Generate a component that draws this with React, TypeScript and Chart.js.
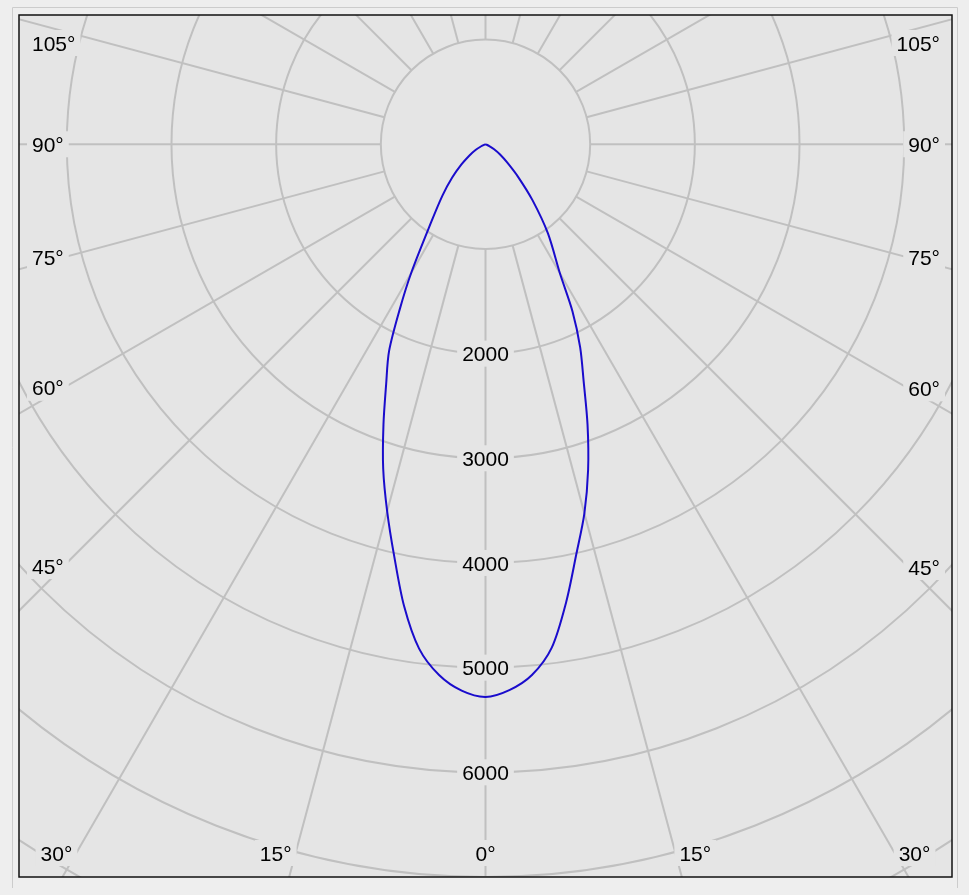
import React, { useEffect, useRef } from "react";
import { Chart, registerables } from "chart.js";

Chart.register(...registerables);

// Vertical angle gamma (degrees from nadir)
const GAMMA = [0, 2.5, 5, 7.5, 10, 12.5, 15, 17.5, 20, 22.5, 25, 27.5, 30, 35, 40, 45, 50, 55, 60, 65, 70, 75, 80, 85, 90];
// Luminous intensity, C0 half-plane (right side), cd
const C0_CD = [5280, 5220, 5090, 4850, 4440, 4010, 3650, 3260, 2850, 2450, 2140, 1800, 1420, 1040, 700, 440, 270, 170, 95, 40, 10, 0, 0, 0, 0];
// Luminous intensity, C180 half-plane (left side), cd
const C180_CD = [5280, 5225, 5090, 4860, 4480, 4030, 3630, 3250, 2850, 2480, 2180, 1770, 1420, 900, 640, 450, 300, 190, 110, 45, 10, 0, 0, 0, 0];

// Grid rings (cd) and the ones that carry a label
const RING_VALUES = [1000, 2000, 3000, 4000, 5000, 6000, 7000, 8000, 9000, 10000];
const RING_LABELS = [2000, 3000, 4000, 5000, 6000];
// Radial spokes (degrees) and angle labels
const SPOKE_ANGLES = [0, 15, 30, 45, 60, 75, 90, 105, 120, 135, 150, 165, 180, 195, 210, 225, 240, 255, 270, 285, 300, 315, 330, 345];
const ANGLE_LABELS = [0, 15, 30, 45, 60, 75, 90, 105];

const PAGE_BG = "#eeeeee";
const PLOT_BG = "#e5e5e5";
const GRID = "#c0c0c0";
const CURVE = "#1a0ccc";
const FONT_SIZE = 21;
const FONT = `${FONT_SIZE}px "Liberation Sans", Arial, sans-serif`;

const Y_MIN = -7000;
const Y_MAX = 1235;
const PAD = { left: 19, top: 15, right: 17, bottom: 18 };
const W = 969;
const H = 895;
const AREA_W = W - PAD.left - PAD.right;
const AREA_H = H - PAD.top - PAD.bottom;
const X_HALF = ((Y_MAX - Y_MIN) * AREA_W) / AREA_H / 2;

function buildCurve() {
  const pts: { x: number; y: number }[] = [];
  for (let i = GAMMA.length - 1; i >= 0; i--) {
    const g = (GAMMA[i] * Math.PI) / 180;
    pts.push({ x: -C180_CD[i] * Math.sin(g), y: -C180_CD[i] * Math.cos(g) });
  }
  for (let i = 1; i < GAMMA.length; i++) {
    const g = (GAMMA[i] * Math.PI) / 180;
    pts.push({ x: C0_CD[i] * Math.sin(g), y: -C0_CD[i] * Math.cos(g) });
  }
  return pts;
}

const polarGrid = {
  id: "polarGrid",
  beforeDraw(chart: any) {
    const { ctx, chartArea: a } = chart;
    ctx.save();
    ctx.fillStyle = PLOT_BG;
    ctx.fillRect(a.left, a.top, a.right - a.left, a.bottom - a.top);
    ctx.restore();
  },
  beforeDatasetsDraw(chart: any) {
    const { ctx, chartArea: a, scales } = chart;
    const xs = scales.x;
    const ys = scales.y;
    const cx = xs.getPixelForValue(0);
    const cy = ys.getPixelForValue(0);
    const k = (xs.getPixelForValue(1000) - cx) / 1000;

    ctx.save();
    ctx.beginPath();
    ctx.rect(a.left, a.top, a.right - a.left, a.bottom - a.top);
    ctx.clip();

    ctx.strokeStyle = GRID;
    ctx.lineWidth = 2;
    RING_VALUES.forEach((v) => {
      ctx.beginPath();
      ctx.arc(cx, cy, v * k, 0, Math.PI * 2);
      ctx.stroke();
    });
    const r0 = RING_VALUES[0] * k;
    SPOKE_ANGLES.forEach((deg) => {
      const t = (deg * Math.PI) / 180;
      const dx = Math.sin(t);
      const dy = Math.cos(t);
      ctx.beginPath();
      ctx.moveTo(cx + dx * r0, cy + dy * r0);
      ctx.lineTo(cx + dx * 3000, cy + dy * 3000);
      ctx.stroke();
    });

    ctx.font = FONT;
    ctx.textBaseline = "alphabetic";
    const drawLabel = (txt: string, x: number, yc: number, align: "left" | "right" | "center") => {
      const w = ctx.measureText(txt).width;
      let left = x;
      if (align === "right") left = x - w;
      if (align === "center") left = x - w / 2;
      ctx.fillStyle = PLOT_BG;
      ctx.fillRect(left - 5, yc - 13, w + 10, 26);
      ctx.fillStyle = "#000";
      ctx.textAlign = "left";
      ctx.fillText(txt, left, yc + 0.36 * FONT_SIZE);
    };

    RING_LABELS.forEach((v) => {
      drawLabel(String(v), cx, ys.getPixelForValue(-v), "center");
    });

    const L = a.left, R = a.right, T = a.top, B = a.bottom;
    ANGLE_LABELS.forEach((deg) => {
      const sides = deg === 0 ? [1] : [-1, 1];
      sides.forEach((s) => {
        const txt = `${deg}°`;
        const t = (deg * Math.PI) / 180;
        const dx = s * Math.sin(t);
        const dy = Math.cos(t);
        const tx = Math.abs(dx) > 1e-6 ? (s < 0 ? cx - L : R - cx) / Math.abs(dx) : Infinity;
        const ty = dy > 1e-6 ? (B - cy) / dy : dy < -1e-6 ? (cy - T) / -dy : Infinity;
        const w = ctx.measureText(txt).width;
        if (tx < ty) {
          if (s < 0) {
            const xl = L + 13;
            const tt = (cx - (xl + w)) / Math.abs(dx);
            const yc = Math.max(T + 28, cy + dy * tt);
            drawLabel(txt, xl, yc, "left");
          } else {
            const xr = R - 12;
            const tt = (xr - w - cx) / Math.abs(dx);
            const yc = Math.max(T + 28, cy + dy * tt);
            drawLabel(txt, xr, yc, "right");
          }
        } else {
          const yc = B - 24;
          const tt = (yc - cy) / dy;
          const x = cx + dx * tt;
          if (deg === 0) drawLabel(txt, x, yc, "center");
          else if (s < 0) drawLabel(txt, x - 4, yc, "right");
          else drawLabel(txt, x + 4, yc, "left");
        }
      });
    });
    ctx.restore();
  },
  afterDraw(chart: any) {
    const { ctx, chartArea: a } = chart;
    ctx.save();
    ctx.strokeStyle = "#cccccc";
    ctx.lineWidth = 1;
    ctx.beginPath();
    ctx.moveTo(12.5, 888);
    ctx.lineTo(12.5, 7.5);
    ctx.lineTo(957.5, 7.5);
    ctx.lineTo(957.5, 888);
    ctx.stroke();
    ctx.strokeStyle = "#111111";
    ctx.lineWidth = 1.5;
    ctx.strokeRect(a.left, a.top, a.right - a.left, a.bottom - a.top);
    ctx.restore();
  },
};

export default function App() {
  const ref = useRef<HTMLCanvasElement | null>(null);
  useEffect(() => {
    if (!ref.current) return;
    const chart = new Chart(ref.current, {
      type: "scatter",
      data: {
        datasets: [
          {
            data: buildCurve(),
            showLine: true,
            borderColor: CURVE,
            borderWidth: 2,
            pointRadius: 0,
            tension: 0.3,
            fill: false,
          },
        ],
      },
      options: {
        animation: false,
        responsive: false,
        devicePixelRatio: 1,
        layout: { padding: PAD },
        plugins: { legend: { display: false }, tooltip: { enabled: false } },
        scales: {
          x: { type: "linear", min: -X_HALF, max: X_HALF, display: false },
          y: { type: "linear", min: Y_MIN, max: Y_MAX, display: false },
        },
      },
      plugins: [polarGrid],
    });
    return () => chart.destroy();
  }, []);
  return (
    <div style={{ position: "absolute", left: 0, top: 0, width: W, height: H, background: PAGE_BG }}>
      <canvas ref={ref} width={W} height={H} style={{ display: "block", width: W, height: H }} />
    </div>
  );
}
